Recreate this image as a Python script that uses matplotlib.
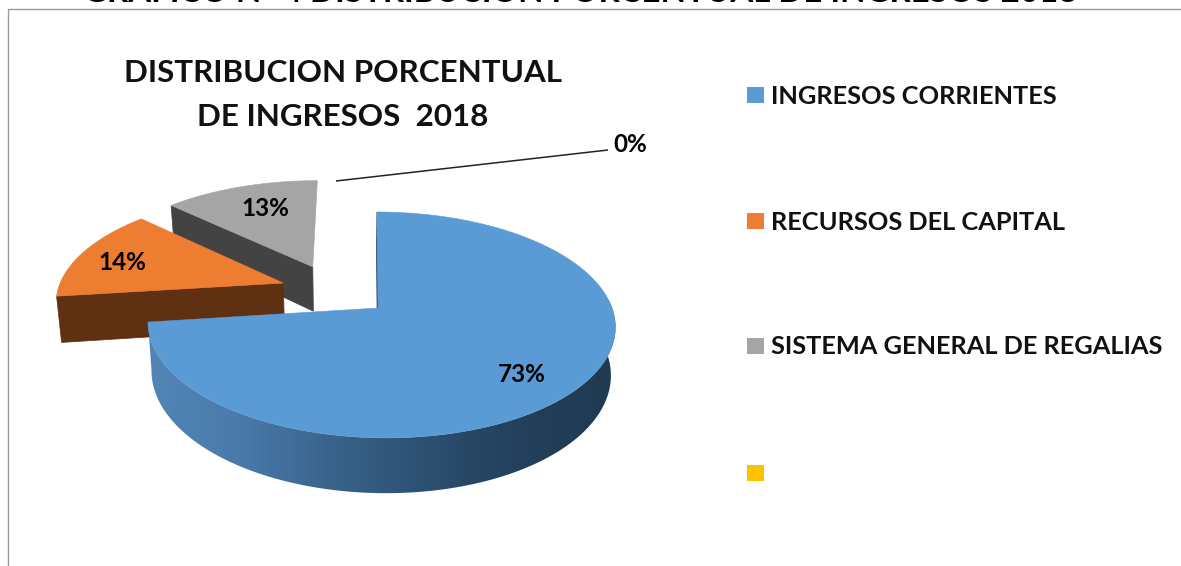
import numpy as np
import matplotlib
matplotlib.use("Agg")
import matplotlib.pyplot as plt
from matplotlib.patches import Polygon, Rectangle

# ---- data ----
categories = ["INGRESOS CORRIENTES", "RECURSOS DEL CAPITAL", "SISTEMA GENERAL DE REGALIAS", ""]
shares = [73, 14, 13, 0]
tick_labels = ["73%", "14%", "13%", "0%"]
chart_title = "DISTRIBUCION PORCENTUAL\nDE INGRESOS  2018"
page_title = "GRAFICO N° 4 DISTRIBUCION PORCENTUAL DE INGRESOS 2018"

# ---- style ----
top_colors = ["#5B9BD5", "#ED7D31", "#A5A5A5", "#FFC000"]
wall_colors = ["#254061", "#5F3112", "#434343", "#7F6000"]
explode = [(0.0, 0.0), (-0.433, 0.234), (-0.305, 0.395), (0, 0)]
apex_nudge = [(-0.013, 0.0), (0, 0), (0, 0), (0, 0)]
label_pos = [(522, 374), (122, 263), (265, 208), (630, 144)]
W, H = 1181, 566
XV, Y0, CX, RX, RY, K = 350, 308, 31, 231, 110.4, 0.15
DEPTH, SHRINK = 47, 0.983

plt.rcParams["font.family"] = ["Lato", "DejaVu Sans"]
fig = plt.figure(figsize=(W / 100, H / 100), dpi=100)
ax = fig.add_axes([0, 0, 1, 1])
ax.axis("off")


def proj(u, v, low=False):
    """Perspective projection of a disc point; low=True gives the slice's underside."""
    u, v = np.asarray(u, float), np.asarray(v, float)
    d = 1 + K * v
    x = XV + (RX * u + CX) / d
    y = Y0 - RY * v / d
    if low:
        x = XV + (x - XV) * SHRINK
        y = y + DEPTH / d
    return x, y


def slice_arc(a0, a1, off, n=300):
    t = np.radians(np.linspace(a0, a1, n))
    return np.sin(t) + off[0], np.cos(t) + off[1]


stops_x = [150, 250, 330, 400, 470, 540, 615]
stops = np.array([[0x52, 0x86, 0xB6], [0x48, 0x78, 0xA8], [0x3A, 0x64, 0x8C],
                  [0x30, 0x55, 0x78], [0x27, 0x47, 0x66], [0x22, 0x3E, 0x59], [0x20, 0x3A, 0x53]]) / 255

edges = np.cumsum([0] + shares) / sum(shares) * 360
for i in [2, 1, 0]:
    a0, a1 = edges[i], edges[i + 1]
    off = explode[i]
    u, v = slice_arc(a0, a1, off)
    apex = (off[0] + apex_nudge[i][0], off[1] + apex_nudge[i][1])
    ax_x, ax_y = proj(*apex)
    lo_ax_x, lo_ax_y = proj(*apex, low=True)
    x, y = proj(u, v)
    xl, yl = proj(u, v, low=True)
    # leading cut wall
    ax.add_patch(Polygon([(ax_x, ax_y), (x[0], y[0]), (xl[0], yl[0]), (lo_ax_x, lo_ax_y)],
                         fc=wall_colors[i], ec=wall_colors[i], lw=0.5))
    # gradient outer rim of the large slice
    if i == 0:
        t = np.radians(np.linspace(a0, a1, len(x)))
        front = np.cos(t) <= 0.16
        rim = Polygon(np.column_stack([np.r_[x[front], xl[front][::-1]],
                                       np.r_[y[front], yl[front][::-1]]]),
                      fc="none", ec="none", transform=ax.transData)
        ax.add_patch(rim)
        xs = np.linspace(stops_x[0] - 10, stops_x[-1] + 5, 512)
        grad = np.stack([np.interp(xs, stops_x, stops[:, c]) for c in range(3)], axis=-1)[None, :, :]
        im = ax.imshow(grad, extent=(xs[0], xs[-1], 520, 300), aspect="auto", zorder=0.5,
                       interpolation="bilinear")
        im.set_clip_path(rim)
    ax.add_patch(Polygon(np.column_stack([np.r_[ax_x, x], np.r_[ax_y, y]]),
                         fc=top_colors[i], ec=top_colors[i], lw=0.4, zorder=1 + 0.1 * (3 - i)))

ax.set_xlim(0, W)
ax.set_ylim(H, 0)

# leader of the 0 % slice
ax.plot([336, 608], [181, 150], color="#222222", lw=1.1, solid_capstyle="butt", zorder=3)

for lab, (lx, ly) in zip(tick_labels, label_pos):
    ax.text(lx, ly, lab, ha="center", va="center", fontsize=17.5, fontweight="bold", color="black", zorder=4)

ax.text(343, 95, chart_title, ha="center", va="center", fontsize=22.6, fontweight="bold",
        color="#111111", linespacing=1.68)
ax.text(580, -7, page_title, ha="center", va="center", fontsize=23.8, fontweight="bold", color="black", clip_on=True)

# legend
legend_y = [95, 221, 346, 473]
for name, col, ly in zip(categories, top_colors, legend_y):
    ax.add_patch(Rectangle((747, ly - 8), 17, 16, fc=col, ec="none"))
    ax.text(771, ly + 1, name, ha="left", va="center", fontsize=18.3, fontweight="bold", color="#111111")

# chart frame
ax.plot([7.5, 7.5, W], [H, 8.5, 8.5], color="#9a9a9a", lw=1)

fig.savefig("out.png", dpi=100, facecolor="white")
